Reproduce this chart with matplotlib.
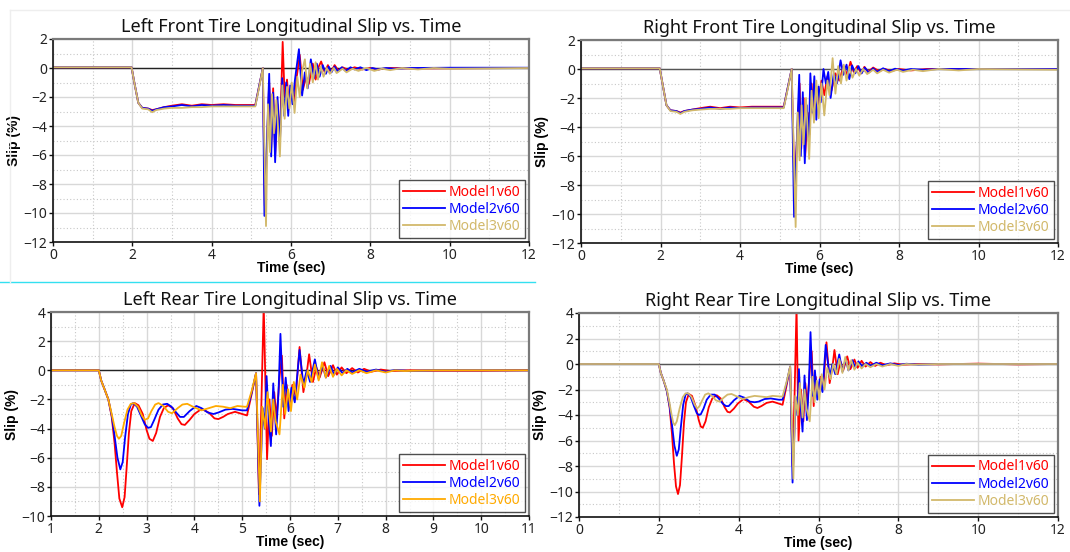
import matplotlib
matplotlib.use("Agg")
import matplotlib.pyplot as plt
from matplotlib.lines import Line2D
from matplotlib.ticker import MultipleLocator

# ---------------------------------------------------------------- data
series_names = ["Model1v60", "Model2v60", "Model3v60"]

# Left front tire
lf_m1_t = [0, 1.98, 2.05, 2.15, 2.25, 2.4, 2.5, 2.6, 2.8, 3.0, 3.25, 3.5, 3.75, 4.0, 4.3, 4.6, 5.0, 5.1, 5.2, 5.29,
           5.34, 5.45, 5.50, 5.55, 5.60, 5.66, 5.72, 5.79, 5.84, 5.90, 5.95, 6.02, 6.08, 6.15, 6.22, 6.30, 6.38, 6.45,
           6.55, 6.62, 6.70, 6.76, 6.85, 6.93, 7.0, 7.1, 7.2, 7.3, 7.45, 7.6, 7.8, 8.0, 8.2, 8.5, 9.0, 12]
lf_m1_v = [0.05, 0.05, -1.0, -2.4, -2.75, -2.8, -2.9, -2.85, -2.7, -2.6, -2.5, -2.6, -2.5, -2.55, -2.5, -2.55, -2.55, -2.55, -1.2, 0.0,
           -9.5, -1.0, -5.5, -1.4, -6.0, -2.5, -5.0, 1.8, -2.0, -0.8, -2.8, -1.2, -2.4, -0.5, 0.9, -1.5, -0.6, -1.1,
           0.3, -0.8, 0.1, 0.45, -0.3, 0.2, -0.3, 0.2, -0.2, 0.05, -0.15, 0.05, -0.1, 0.0, -0.1, 0.0, -0.03, 0.0]
lf_m2_t = [0, 1.98, 2.05, 2.15, 2.25, 2.4, 2.5, 2.6, 2.8, 3.0, 3.25, 3.5, 3.75, 4.0, 4.3, 4.6, 5.0, 5.1, 5.2, 5.29,
           5.33, 5.45, 5.50, 5.55, 5.60, 5.66, 5.72, 5.78, 5.83, 5.88, 5.93, 5.98, 6.04, 6.10, 6.20, 6.28, 6.35, 6.42,
           6.50, 6.58, 6.65, 6.72, 6.80, 6.88, 6.95, 7.02, 7.10, 7.18, 7.28, 7.38, 7.5, 7.6, 7.75, 7.9, 8.05, 8.2,
           8.4, 8.6, 9.0, 10, 12]
lf_m2_v = [0.05, 0.05, -1.0, -2.4, -2.75, -2.8, -2.95, -2.85, -2.7, -2.65, -2.55, -2.65, -2.55, -2.6, -2.55, -2.6, -2.6, -2.6, -1.2, 0.0,
           -10.2, -0.4, -6.1, -1.7, -6.5, -2.0, -5.2, -0.7, -3.3, -1.0, -3.3, -1.2, -2.5, -0.8, 1.3, -1.9, -0.3, -1.4,
           0.6, -0.7, 0.3, -0.6, 0.2, -0.4, 0.1, -0.3, 0.1, -0.25, 0.05, -0.2, 0.05, -0.1, 0.05, -0.15, 0.0, -0.1,
           0.0, -0.05, 0.0, 0.02, 0.02]
lf_m3_t = [0, 1.98, 2.05, 2.15, 2.25, 2.4, 2.5, 2.6, 2.8, 3.0, 3.25, 3.5, 3.75, 4.0, 4.3, 4.6, 5.0, 5.1, 5.2, 5.29,
           5.37, 5.42, 5.47, 5.52, 5.57, 5.63, 5.72, 5.78, 5.84, 5.90, 5.96, 6.02, 6.09, 6.16, 6.22, 6.28, 6.35, 6.41,
           6.48, 6.55, 6.62, 6.68, 6.75, 6.82, 6.9, 6.98, 7.08, 7.15, 7.3, 7.4, 7.55, 7.7, 7.9, 8.1, 8.3, 8.5, 8.8,
           9.2, 9.6, 10, 12]
lf_m3_v = [0.05, 0.05, -1.0, -2.4, -2.8, -2.85, -3.05, -2.9, -2.8, -2.75, -2.75, -2.7, -2.7, -2.65, -2.65, -2.65, -2.65, -2.65, -1.3, 0.0,
           -10.9, -2.5, -5.8, -1.8, -4.5, -2.2, -6.1, -1.2, -3.5, -1.3, -2.8, -1.0, -3.1, -0.6, -2.0, -0.2, 0.6, -1.4,
           0.3, -1.0, 0.4, -0.8, 0.1, -0.6, 0.0, -0.4, 0.0, -0.35, -0.05, -0.3, -0.05, -0.2, 0.0, -0.2, -0.05, -0.15, 0.0,
           -0.1, 0.0, -0.05, 0.0]

# Right front tire
rf_m1_t = [0, 1.98, 2.05, 2.15, 2.25, 2.4, 2.5, 2.6, 2.8, 3.0, 3.25, 3.5, 3.75, 4.0, 4.3, 4.6, 5.0, 5.1, 5.2, 5.30,
           5.37, 5.50, 5.54, 5.60, 5.64, 5.70, 5.75, 5.80, 5.86, 5.92, 5.98, 6.05, 6.12, 6.20, 6.30, 6.40, 6.50,
           6.60, 6.70, 6.78, 6.86, 6.95, 7.05, 7.13, 7.22, 7.35, 7.5, 7.65, 7.8, 8.0, 8.3, 8.7, 12]
rf_m1_v = [0.05, 0.05, -1.0, -2.5, -2.85, -2.9, -3.0, -2.9, -2.8, -2.7, -2.6, -2.7, -2.6, -2.65, -2.6, -2.6, -2.6, -2.6, -1.3, 0.0,
           -8.5, -1.0, -5.5, -2.0, -6.0, -3.0, -4.5, -1.0, -3.3, -1.2, -2.6, -0.8, -1.8, -0.5, -1.5, -0.3, -0.8,
           0.2, -0.4, 0.5, -0.2, 0.2, -0.3, 0.15, -0.2, 0.1, -0.15, 0.0, -0.15, 0.0, -0.1, 0.0, 0.0]
rf_m2_t = [0, 1.98, 2.05, 2.15, 2.25, 2.4, 2.5, 2.6, 2.8, 3.0, 3.25, 3.5, 3.75, 4.0, 4.3, 4.6, 5.0, 5.1, 5.2, 5.30,
           5.36, 5.49, 5.53, 5.58, 5.63, 5.68, 5.73, 5.77, 5.82, 5.87, 5.92, 5.98, 6.03, 6.10, 6.16, 6.22, 6.28, 6.36,
           6.44, 6.53, 6.60, 6.68, 6.75, 6.82, 6.9, 6.98, 7.06, 7.14, 7.24, 7.35, 7.45, 7.6, 7.75, 7.9, 8.1, 8.3,
           8.6, 9.0, 12]
rf_m2_v = [0.05, 0.05, -1.0, -2.5, -2.85, -2.9, -3.05, -2.9, -2.8, -2.75, -2.65, -2.75, -2.65, -2.7, -2.65, -2.65, -2.65, -2.65, -1.3, 0.0,
           -10.2, -0.4, -6.0, -1.6, -6.5, -2.5, -5.0, -0.3, -3.0, -0.5, -3.5, -1.2, -2.3, 0.0, -1.0, -0.2, -2.0, -0.3,
           -1.0, 0.6, -0.4, 0.3, -0.7, 0.25, -0.3, 0.2, -0.3, 0.1, -0.25, 0.05, -0.2, 0.05, -0.15, 0.02, -0.1, 0.0,
           -0.05, 0.0, 0.0]
rf_m3_t = [0, 1.98, 2.05, 2.15, 2.25, 2.4, 2.5, 2.6, 2.8, 3.0, 3.25, 3.5, 3.75, 4.0, 4.3, 4.6, 5.0, 5.1, 5.2, 5.30,
           5.40, 5.45, 5.50, 5.55, 5.60, 5.66, 5.74, 5.80, 5.86, 5.92, 5.98, 6.05, 6.12, 6.20, 6.25, 6.33, 6.40, 6.47,
           6.54, 6.61, 6.68, 6.75, 6.83, 6.92, 7.0, 7.1, 7.2, 7.35, 7.45, 7.6, 7.75, 7.95, 8.1, 8.35, 8.6, 9.0, 9.5,
           10, 12]
rf_m3_v = [0.05, 0.05, -1.0, -2.5, -2.9, -2.95, -3.1, -2.95, -2.85, -2.8, -2.75, -2.75, -2.75, -2.7, -2.7, -2.7, -2.7, -2.7, -1.4, 0.0,
           -10.9, -3.0, -6.3, -2.5, -5.2, -2.0, -6.2, -1.5, -3.7, -0.8, -3.4, -1.0, -3.2, -0.8, -1.8, 0.75, -1.7, 0.2,
           -1.0, 0.3, -0.8, 0.15, -0.6, 0.0, -0.45, 0.0, -0.35, -0.05, -0.3, -0.05, -0.25, -0.05, -0.2, -0.05, -0.15, 0.0, -0.1,
           0.0, -0.05]

# Left rear tire
lr_m1_t = [1, 2.0, 2.05, 2.12, 2.2, 2.27, 2.33, 2.38, 2.43, 2.49, 2.54, 2.58, 2.63, 2.68, 2.75, 2.83, 2.92, 3.0, 3.06,
           3.13, 3.2, 3.28, 3.36, 3.45, 3.55, 3.65, 3.73, 3.8, 3.9, 4.0, 4.15, 4.3, 4.42, 4.5, 4.6, 4.7, 4.85, 5.0,
           5.1, 5.2, 5.29, 5.35, 5.40, 5.45, 5.52, 5.57, 5.62, 5.67, 5.72, 5.78, 5.83, 5.88,
           5.93, 5.98, 6.05, 6.12, 6.2, 6.28, 6.35, 6.40, 6.48, 6.55, 6.62, 6.72, 6.8, 6.9, 6.98, 7.08, 7.18, 7.3,
           7.42, 7.55, 7.7, 7.9, 8.1, 8.5, 9.0, 10, 11]
lr_m1_v = [0, 0, -0.7, -1.3, -2.0, -3.2, -5.0, -7.0, -8.8, -9.4, -8.7, -6.8, -4.3, -2.8, -2.25, -2.4, -3.0, -4.1, -4.7,
           -4.85, -4.3, -3.2, -2.6, -2.4, -2.6, -3.3, -3.7, -3.75, -3.4, -3.0, -2.65, -2.9, -3.3, -3.35, -3.2, -3.0, -2.85, -3.0,
           -3.1, -1.6, -0.2, -8.5, -2.5, 4.5, -6.1, -2.0, -4.5, -1.5, -3.3, -0.5, 1.0, -3.3,
           -1.0, -2.5, -1.0, -1.8, 1.6, -1.5, -0.2, 1.1, -0.8, 0.2, -0.5, 0.55, -0.4, 0.35, -0.3, 0.2, -0.2, 0.15,
           -0.15, 0.1, -0.1, 0.05, -0.05, 0.0, -0.03, -0.03, 0.0]
lr_m2_t = [1, 2.0, 2.05, 2.12, 2.2, 2.27, 2.33, 2.39, 2.45, 2.5, 2.55, 2.61, 2.67, 2.72, 2.8, 2.88, 2.96, 3.03, 3.09,
           3.16, 3.25, 3.34, 3.43, 3.52, 3.62, 3.7, 3.78, 3.9, 4.04, 4.15, 4.28, 4.4, 4.5, 4.65, 4.8, 5.0,
           5.1, 5.2, 5.29, 5.36, 5.43, 5.47, 5.51, 5.56, 5.60, 5.65, 5.71, 5.76, 5.80, 5.86,
           5.91, 5.97, 6.03, 6.10, 6.2, 6.28, 6.35, 6.42, 6.52, 6.6, 6.68, 6.75, 6.85, 6.92, 7.0, 7.1, 7.2, 7.3,
           7.45, 7.6, 7.8, 8.0, 8.2, 8.5, 9.0, 11]
lr_m2_v = [0, 0, -0.7, -1.3, -2.0, -3.1, -4.5, -6.0, -6.8, -6.3, -4.6, -3.0, -2.35, -2.25, -2.5, -3.1, -3.7, -3.95, -3.9,
           -3.4, -2.7, -2.35, -2.3, -2.5, -2.9, -3.2, -3.2, -2.8, -2.45, -2.6, -2.9, -3.0, -2.9, -2.7, -2.65, -2.75,
           -2.75, -1.5, -0.2, -9.3, -2.6, -4.0, -0.4, -3.6, -5.2, -0.9, -4.4, -1.5, 2.5, -2.5,
           -0.5, -2.8, -1.2, -2.2, 1.4, -1.0, 0.0, -0.8, 0.75, -0.6, 0.35, -0.5, 0.3, -0.3, 0.2, -0.2, 0.1, -0.15,
           0.1, -0.1, 0.05, -0.1, 0.02, -0.05, 0.0, 0.0]
lr_m3_t = [1, 2.0, 2.05, 2.12, 2.2, 2.27, 2.33, 2.38, 2.42, 2.47, 2.53, 2.6, 2.67, 2.74, 2.82, 2.9, 2.96, 3.03, 3.1,
           3.18, 3.25, 3.35, 3.45, 3.53, 3.65, 3.75, 3.85, 4.0, 4.15, 4.3, 4.45, 4.6, 4.75, 4.9, 5.05,
           5.1, 5.2, 5.29, 5.37, 5.42, 5.48, 5.53, 5.6, 5.65, 5.70, 5.78, 5.85, 5.9, 5.96,
           6.02, 6.08, 6.15, 6.22, 6.30, 6.37, 6.45, 6.52, 6.6, 6.67, 6.75, 6.82, 6.9, 6.98, 7.08, 7.18, 7.3, 7.45,
           7.6, 7.8, 8.0, 8.2, 8.4, 9.0, 11]
lr_m3_v = [0, 0, -0.7, -1.3, -2.0, -3.0, -3.9, -4.5, -4.7, -4.5, -3.6, -2.7, -2.3, -2.25, -2.5, -3.1, -3.4, -3.3, -2.8,
           -2.35, -2.25, -2.45, -2.85, -2.95, -2.6, -2.35, -2.3, -2.55, -2.75, -2.6, -2.45, -2.5, -2.6, -2.45, -2.5,
           -2.5, -1.4, -0.2, -9.0, -2.5, -4.0, -1.5, -4.2, -2.0, -3.5, -4.4, -1.0, -3.0, -1.3,
           -2.8, -0.8, -2.0, -0.3, -1.2, 0.0, -0.8, 0.4, -0.7, 0.55, -0.5, 0.3, -0.45, 0.1, -0.35, 0.0, -0.25, 0.0,
           -0.2, 0.0, -0.15, 0.0, -0.05, 0.0, 0.0]

# Right rear tire
rr_m1_t = [0, 2.0, 2.05, 2.12, 2.2, 2.27, 2.33, 2.38, 2.43, 2.48, 2.53, 2.58, 2.63, 2.68, 2.75, 2.83, 2.92, 3.0, 3.05,
           3.1, 3.17, 3.25, 3.34, 3.45, 3.55, 3.65, 3.72, 3.78, 3.88, 3.98, 4.12, 4.25, 4.38, 4.47, 4.57, 4.7, 4.85, 5.05,
           5.1, 5.2, 5.29, 5.35, 5.40, 5.45, 5.50, 5.56, 5.62, 5.67, 5.72, 5.78, 5.83, 5.88,
           5.93, 5.98, 6.05, 6.12, 6.2, 6.28, 6.35, 6.40, 6.48, 6.55, 6.62, 6.72, 6.8, 6.9, 6.98, 7.08, 7.18, 7.3,
           7.42, 7.55, 7.7, 7.9, 8.1, 8.5, 9.0, 10, 11, 12]
rr_m1_v = [0, 0, -0.7, -1.3, -2.1, -3.4, -5.5, -7.8, -9.6, -10.2, -9.5, -7.2, -4.6, -3.0, -2.35, -2.5, -3.3, -4.4, -4.9,
           -5.0, -4.5, -3.4, -2.7, -2.45, -2.7, -3.4, -3.75, -3.8, -3.5, -3.1, -2.75, -2.95, -3.35, -3.45, -3.3, -3.05, -2.95, -3.15,
           -3.2, -1.7, -0.2, -8.0, -2.5, 4.5, -6.0, -2.0, -4.5, -1.5, -3.3, -0.5, 1.0, -3.3,
           -1.0, -2.5, -1.0, -1.8, 1.7, -1.5, -0.2, 1.1, -0.8, 0.2, -0.5, 0.6, -0.4, 0.35, -0.3, 0.25, -0.2, 0.15,
           -0.15, 0.1, -0.1, 0.05, -0.05, 0.0, -0.03, 0.03, -0.03, 0.0]
rr_m2_t = [0, 2.0, 2.05, 2.12, 2.2, 2.27, 2.33, 2.39, 2.45, 2.5, 2.55, 2.61, 2.67, 2.72, 2.8, 2.88, 2.95, 3.0, 3.05,
           3.12, 3.2, 3.3, 3.4, 3.5, 3.6, 3.68, 3.75, 3.88, 4.02, 4.15, 4.28, 4.4, 4.5, 4.65, 4.8, 5.0,
           5.1, 5.2, 5.29, 5.35, 5.43, 5.47, 5.51, 5.56, 5.60, 5.65, 5.71, 5.76, 5.80, 5.86,
           5.91, 5.97, 6.03, 6.10, 6.18, 6.28, 6.35, 6.42, 6.52, 6.6, 6.68, 6.75, 6.85, 6.92, 7.0, 7.1, 7.2, 7.3,
           7.45, 7.6, 7.8, 8.0, 8.2, 8.5, 9.0, 12]
rr_m2_v = [0, 0, -0.7, -1.3, -2.1, -3.3, -4.8, -6.4, -7.2, -6.7, -5.0, -3.2, -2.4, -2.3, -2.6, -3.3, -3.85, -4.0, -3.95,
           -3.5, -2.8, -2.4, -2.4, -2.7, -3.1, -3.3, -3.3, -2.85, -2.5, -2.65, -2.95, -3.0, -2.95, -2.75, -2.7, -2.8,
           -2.8, -1.5, -0.2, -9.3, -2.6, -4.0, -0.4, -3.6, -5.3, -0.9, -4.4, -1.5, 2.5, -2.5,
           -0.5, -2.8, -1.2, -2.2, 1.5, -1.0, 0.0, -0.8, 0.75, -0.6, 0.4, -0.5, 0.3, -0.3, 0.2, -0.2, 0.1, -0.15,
           0.1, -0.1, 0.05, -0.08, 0.02, -0.05, 0.0, 0.0]
rr_m3_t = [0, 2.0, 2.05, 2.12, 2.2, 2.27, 2.32, 2.36, 2.4, 2.45, 2.52, 2.6, 2.67, 2.74, 2.82, 2.9, 2.96, 3.02, 3.08,
           3.16, 3.24, 3.33, 3.43, 3.52, 3.62, 3.72, 3.82, 3.96, 4.1, 4.25, 4.4, 4.55, 4.7, 4.85, 5.05,
           5.1, 5.2, 5.29, 5.37, 5.42, 5.48, 5.53, 5.6, 5.65, 5.70, 5.78, 5.85, 5.9, 5.96,
           6.02, 6.08, 6.15, 6.22, 6.30, 6.37, 6.45, 6.52, 6.6, 6.67, 6.75, 6.82, 6.9, 6.98, 7.08, 7.18, 7.3, 7.45,
           7.6, 7.8, 8.0, 8.2, 8.4, 9.0, 12]
rr_m3_v = [0, 0, -0.7, -1.3, -2.0, -3.1, -4.0, -4.6, -4.8, -4.5, -3.5, -2.6, -2.3, -2.3, -2.6, -3.2, -3.5, -3.3, -2.9,
           -2.4, -2.3, -2.5, -2.85, -2.95, -2.65, -2.4, -2.35, -2.55, -2.75, -2.6, -2.5, -2.55, -2.6, -2.5, -2.55,
           -2.55, -1.4, -0.2, -9.0, -2.5, -4.0, -1.5, -4.2, -2.0, -3.5, -4.5, -1.0, -3.0, -1.3,
           -2.8, -0.8, -2.0, -0.3, -1.2, 0.0, -0.8, 0.4, -0.7, 0.55, -0.5, 0.3, -0.45, 0.1, -0.35, 0.0, -0.25, 0.0,
           -0.2, 0.0, -0.15, 0.0, -0.05, 0.0, 0.0]

# ---------------------------------------------------------------- style
RED, BLUE, TAN, ORANGE = "#ff0000", "#0000ff", "#d2b96b", "#ffaa00"
TITLE_FONT = ["Noto Sans", "DejaVu Sans"]
LABEL_FONT = ["Liberation Sans", "DejaVu Sans"]

panels = [
    dict(title="Left Front Tire Longitudinal Slip vs. Time",
         rect=[53 / 1070, 1 - 242 / 552, 476 / 1070, 203 / 552],
         xlim=(0, 12), xmaj=2, xmin=1, ylim=(-12, 2), ymaj=2, ymin=1,
         data=[(lf_m1_t, lf_m1_v), (lf_m2_t, lf_m2_v), (lf_m3_t, lf_m3_v)],
         colors=[RED, BLUE, TAN], zero="#222222"),
    dict(title="Right Front Tire Longitudinal Slip vs. Time",
         rect=[581 / 1070, 1 - 243 / 552, 477 / 1070, 203 / 552],
         xlim=(0, 12), xmaj=2, xmin=1, ylim=(-12, 2), ymaj=2, ymin=1,
         data=[(rf_m1_t, rf_m1_v), (rf_m2_t, rf_m2_v), (rf_m3_t, rf_m3_v)],
         colors=[RED, BLUE, TAN], zero="#555555"),
    dict(title="Left Rear Tire Longitudinal Slip vs. Time",
         rect=[51 / 1070, 1 - 516 / 552, 478 / 1070, 204 / 552],
         xlim=(1, 11), xmaj=1, xmin=0.5, ylim=(-10, 4), ymaj=2, ymin=1,
         data=[(lr_m1_t, lr_m1_v), (lr_m2_t, lr_m2_v), (lr_m3_t, lr_m3_v)],
         colors=[RED, BLUE, ORANGE], zero="#222222"),
    dict(title="Right Rear Tire Longitudinal Slip vs. Time",
         rect=[579 / 1070, 1 - 517 / 552, 479 / 1070, 204 / 552],
         xlim=(0, 12), xmaj=2, xmin=1, ylim=(-12, 4), ymaj=2, ymin=1,
         data=[(rr_m1_t, rr_m1_v), (rr_m2_t, rr_m2_v), (rr_m3_t, rr_m3_v)],
         colors=[RED, BLUE, TAN], zero="#555555"),
]

fig = plt.figure(figsize=(10.70, 5.52), dpi=100)
fig.patch.set_facecolor("white")

for p in panels:
    ax = fig.add_axes(p["rect"])
    ax.set_xlim(*p["xlim"])
    ax.set_ylim(*p["ylim"])
    ax.xaxis.set_major_locator(MultipleLocator(p["xmaj"]))
    ax.xaxis.set_minor_locator(MultipleLocator(p["xmin"]))
    ax.yaxis.set_major_locator(MultipleLocator(p["ymaj"]))
    ax.yaxis.set_minor_locator(MultipleLocator(p["ymin"]))
    ax.grid(which="major", color="#d8d8d8", linewidth=1.0, linestyle="-")
    ax.grid(which="minor", color="#c8c8c8", linewidth=0.8, linestyle=(0, (1, 2)))
    ax.set_axisbelow(True)
    ax.axhline(0, color=p["zero"], linewidth=1.0, zorder=1.5)

    for (t, v), c, name in zip(p["data"], p["colors"], series_names):
        ax.plot(t, v, color=c, linewidth=1.3, label=name, zorder=2)

    for side in ("left", "bottom"):
        ax.spines[side].set_color("#111111")
        ax.spines[side].set_linewidth(1.2)
    for side in ("top", "right"):
        ax.spines[side].set_color("#7a7a7a")
        ax.spines[side].set_linewidth(1.6)

    ax.tick_params(which="major", direction="out", length=3, width=1, colors="#111111",
                   labelsize=10, pad=1)
    ax.tick_params(which="minor", length=0)
    for lab in ax.get_xticklabels() + ax.get_yticklabels():
        lab.set_fontfamily(TITLE_FONT)
        lab.set_color("#222222")

    ax.set_title(p["title"], fontsize=13, fontfamily=TITLE_FONT, color="#111111", pad=5)
    ax.set_xlabel("Time (sec)", fontsize=10, fontweight="bold", fontfamily=LABEL_FONT, labelpad=-1)
    ax.set_ylabel("Slip (%)", fontsize=10, fontweight="bold", fontfamily=LABEL_FONT, labelpad=2)

    leg = ax.legend(loc="lower right", frameon=True, fancybox=False,
                    handlelength=3.0, handletextpad=0.3, borderpad=0.3, labelspacing=0.15,
                    borderaxespad=0.3, prop={"family": TITLE_FONT, "size": 10})
    leg.get_frame().set_edgecolor("#222222")
    leg.get_frame().set_linewidth(1.0)
    for txt, c in zip(leg.get_texts(), p["colors"]):
        txt.set_color(c)

# thin separators around the panel grid
fig.add_artist(Line2D([0, 535 / 1070], [1 - 282 / 552] * 2, color="#33e0f0", linewidth=1.0))
fig.add_artist(Line2D([10 / 1070, 1], [1 - 10 / 552] * 2, color="#eeeeee", linewidth=1.0))
fig.add_artist(Line2D([10 / 1070] * 2, [1 - 282 / 552, 1 - 10 / 552], color="#eeeeee", linewidth=1.0))

fig.savefig("out.png", dpi=100, facecolor="white")
